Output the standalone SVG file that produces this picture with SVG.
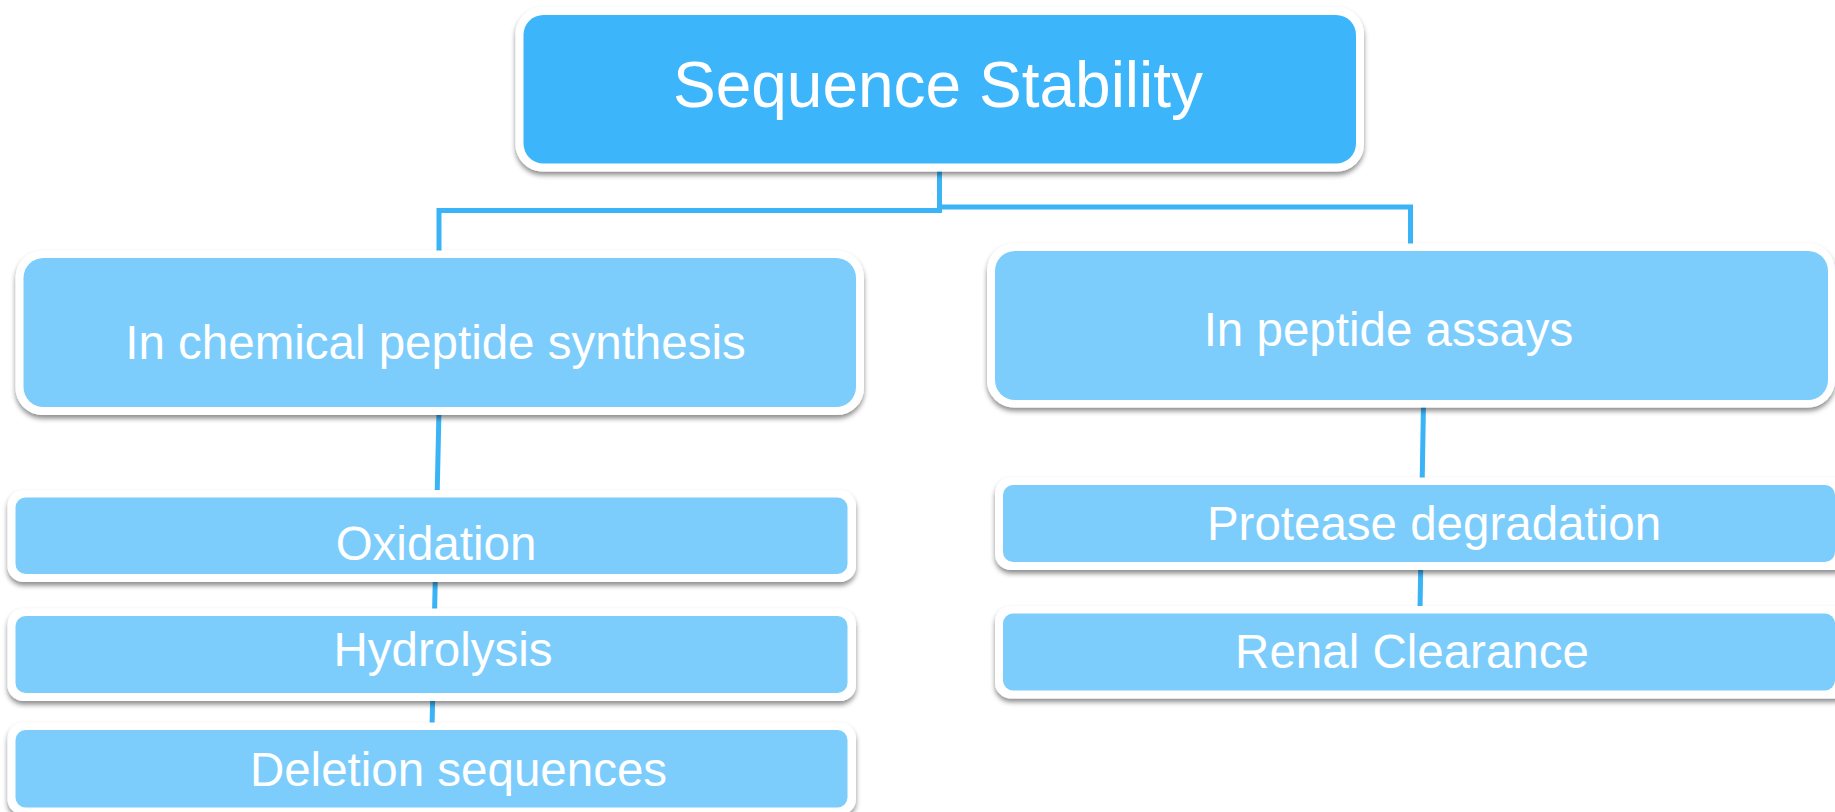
<svg xmlns="http://www.w3.org/2000/svg" width="1835" height="812" viewBox="0 0 1835 812">
  <defs>
    <filter id="shadow" x="-5%" y="-20%" width="110%" height="150%">
      <feDropShadow dx="0" dy="3.5" stdDeviation="2.5" flood-color="#000" flood-opacity="0.45"/>
    </filter>
    <style>
      .frame { fill: #ffffff; filter: url(#shadow); }
      .root { fill: #3cb5fa; }
      .child { fill: #7ccdfc; }
      .label { fill: #ffffff; font-family: "Liberation Sans", Arial, sans-serif; text-anchor: middle; }
      .big { font-size: 64px; }
      .mid { font-size: 47.5px; }
      .wire { fill: none; stroke: #3ab4f7; stroke-width: 5; stroke-linejoin: miter; stroke-linecap: butt; }
    </style>
  </defs>

  <rect width="1835" height="812" fill="#ffffff"/>

  <!-- connectors -->
  <g id="connectors">
    <polyline class="wire" points="939.5,165 939.5,210.5 439,210.5 439,252"/>
    <polyline class="wire" points="939.5,207 1410.5,207 1410.5,246"/>
    <line class="wire" x1="439" y1="410" x2="432" y2="728"/>
    <line class="wire" x1="1423.5" y1="403" x2="1420" y2="610"/>
  </g>

  <!-- root -->
  <g id="node-sequence-stability">
    <rect class="frame" x="515.5" y="7" width="848.5" height="164.5" rx="27"/>
    <rect class="root" x="523.5" y="15" width="832.5" height="148.5" rx="20"/>
    <text class="label big" x="938" y="107">Sequence Stability</text>
  </g>

  <!-- left branch -->
  <g id="node-chemical-synthesis">
    <rect class="frame" x="15.5" y="250.5" width="848.5" height="164.5" rx="27"/>
    <rect class="child" x="23.5" y="258" width="832.5" height="149" rx="20"/>
    <text class="label mid" x="435.5" y="359">In chemical peptide synthesis</text>
  </g>

  <g id="node-oxidation">
    <rect class="frame" x="7.5" y="490" width="848.5" height="92" rx="16"/>
    <rect class="child" x="15.5" y="497.5" width="832" height="76.5" rx="10"/>
    <text class="label mid" x="436" y="560">Oxidation</text>
  </g>

  <g id="node-hydrolysis">
    <rect class="frame" x="7.5" y="608.5" width="848.5" height="92.5" rx="16"/>
    <rect class="child" x="15.5" y="616" width="832" height="77" rx="10"/>
    <text class="label mid" x="443" y="666">Hydrolysis</text>
  </g>

  <g id="node-deletion-sequences">
    <rect class="frame" x="7.5" y="722.5" width="848.5" height="92.5" rx="16"/>
    <rect class="child" x="15.5" y="730" width="832" height="77.5" rx="10"/>
    <text class="label mid" x="458.5" y="786">Deletion sequences</text>
  </g>

  <!-- right branch -->
  <g id="node-peptide-assays">
    <rect class="frame" x="987" y="243.5" width="848" height="164" rx="27"/>
    <rect class="child" x="995" y="251" width="833" height="149" rx="20"/>
    <text class="label mid" x="1388.5" y="346">In peptide assays</text>
  </g>

  <g id="node-protease-degradation">
    <rect class="frame" x="995" y="477.5" width="856" height="92.5" rx="16"/>
    <rect class="child" x="1003" y="485" width="832" height="77" rx="10"/>
    <text class="label mid" x="1434" y="540">Protease degradation</text>
  </g>

  <g id="node-renal-clearance">
    <rect class="frame" x="995" y="606" width="856" height="92.5" rx="16"/>
    <rect class="child" x="1003" y="613.5" width="832" height="77" rx="10"/>
    <text class="label mid" x="1412" y="668">Renal Clearance</text>
  </g>
</svg>
